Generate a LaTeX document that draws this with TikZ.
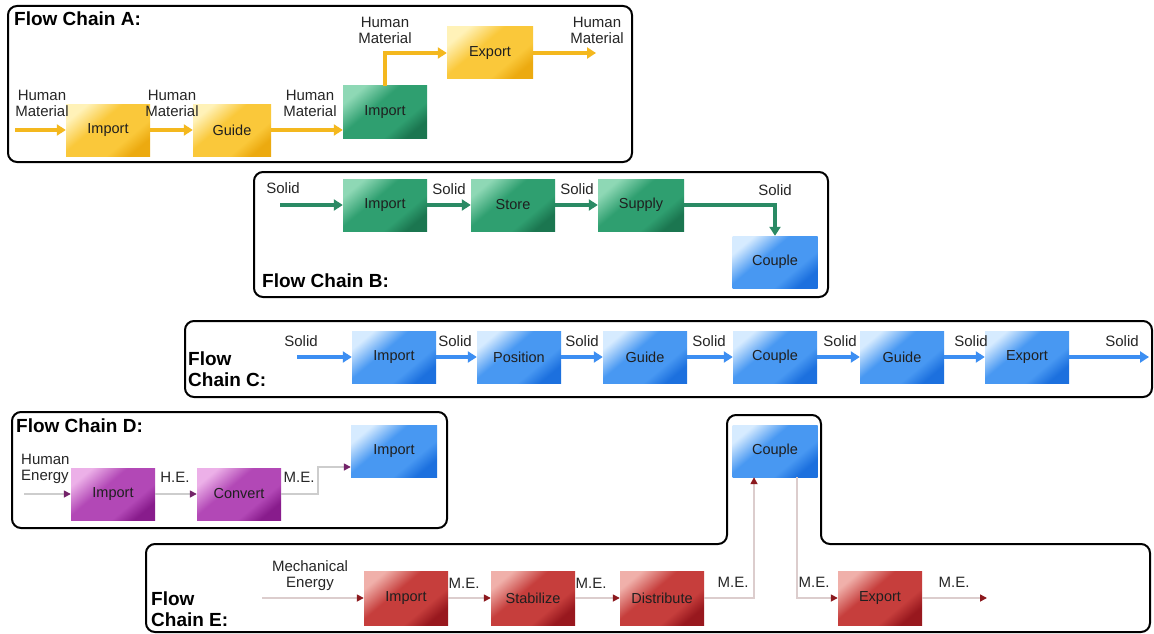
\documentclass[tikz,border=0pt]{standalone}
\usepackage{fontspec}
\setmainfont{Liberation Sans}
\usetikzlibrary{arrows.meta,calc}

% box fills: light, base, dark
\definecolor{yelL}{RGB}{255,242,184}
\definecolor{yelM}{RGB}{250,200,58}
\definecolor{yelD}{RGB}{236,170,16}
\definecolor{grnL}{RGB}{142,216,181}
\definecolor{grnM}{RGB}{47,159,112}
\definecolor{grnD}{RGB}{27,118,80}
\definecolor{bluL}{RGB}{214,235,255}
\definecolor{bluM}{RGB}{72,152,242}
\definecolor{bluD}{RGB}{28,112,222}
\definecolor{purL}{RGB}{236,176,232}
\definecolor{purM}{RGB}{178,72,182}
\definecolor{purD}{RGB}{136,28,140}
\definecolor{redL}{RGB}{240,176,170}
\definecolor{redM}{RGB}{198,62,60}
\definecolor{redD}{RGB}{152,24,30}
% connector colours
\definecolor{arYel}{RGB}{244,184,30}
\definecolor{arGrn}{RGB}{42,138,100}
\definecolor{arBlu}{RGB}{60,142,242}
\definecolor{lnD}{RGB}{205,205,205}
\definecolor{tipD}{RGB}{115,35,105}
\definecolor{lnE}{RGB}{220,205,205}
\definecolor{tipE}{RGB}{140,25,30}

% glossy fill: light corner, flat body, darker far edge
\newcommand\glossshade[2]{%
  \pgfdeclareverticalshading{#1}{100bp}{%
    color(0bp)=(#2D); color(25bp)=(#2D); color(36bp)=(#2M);
    color(58bp)=(#2M); color(75bp)=(#2L); color(100bp)=(#2L)}}
\glossshade{shYel}{yel}
\glossshade{shGrn}{grn}
\glossshade{shBlu}{blu}
\glossshade{shPur}{pur}
\glossshade{shRed}{red}

\tikzset{
  frame/.style={draw=black, line width=2pt, rounded corners=9pt},
  ttl/.style={font=\bfseries\fontsize{19}{21}\selectfont, inner sep=0pt, anchor=west, align=left},
  lbl/.style={font=\fontsize{15}{16}\selectfont, align=center, inner sep=0pt, text=black!85},
  fbox/.style={minimum width=84pt, minimum height=52pt, inner sep=0pt,
    font=\fontsize{14.5}{16}\selectfont, text=black!88},
  yel/.style={fbox, shading=shYel, shading angle=40},
  grn/.style={fbox, shading=shGrn, shading angle=40},
  blu/.style={fbox, shading=shBlu, shading angle=40},
  pur/.style={fbox, shading=shPur, shading angle=40},
  red/.style={fbox, shading=shRed, shading angle=40},
  arA/.style={draw=arYel, line width=3.6pt, -{Triangle[length=9pt,width=11pt]}},
  arB/.style={draw=arGrn, line width=3.6pt, -{Triangle[length=9pt,width=11pt]}},
  arC/.style={draw=arBlu, line width=3.6pt, -{Triangle[length=9pt,width=11pt]}},
  arD/.style={draw=lnD, line width=1.6pt, -{Triangle[length=7pt,width=7pt,color=tipD]}},
  arE/.style={draw=lnE, line width=1.6pt, -{Triangle[length=7pt,width=7pt,color=tipE]}},
}

\begin{document}
\begin{tikzpicture}[x=1pt,y=-1pt]
\useasboundingbox (0,0) rectangle (1154,634);
\fill[white] (0,0) rectangle (1154,634);

% ---------------- Flow chain A ----------------
\draw[frame] (8,6) rectangle (632,162);
\node[ttl] (tA) at (14,19) {Flow Chain A:};
\node[yel] (aImp) at (108,130) {Import};
\node[yel, minimum width=78pt] (aGuide) at (232,130) {Guide};
\node[grn] (aImpG) at (385,112) {Import};
\node[yel, minimum width=86pt] (aExp) at (490,53) {Export};
\coordinate (aIn) at (15,130);
\coordinate (aOut) at (596,53);
\draw[arA] (aIn) -- (aImp.west);
\draw[arA] (aImp.east) -- (aGuide.west);
\draw[arA] (aGuide.east) -- (aGuide.east -| aImpG.west);
\draw[arA] (aImpG.north) |- (aExp.west);
\draw[arA] (aExp.east) -- (aOut);
\node[lbl] (lA1) at (42,103) {Human\\Material};
\node[lbl] (lA2) at (172,103) {Human\\Material};
\node[lbl] (lA3) at (310,103) {Human\\Material};
\node[lbl] (lA4) at (385,30) {Human\\Material};
\node[lbl] (lA5) at (597,30) {Human\\Material};

% ---------------- Flow chain B ----------------
\draw[frame] (254,172) rectangle (828,297);
\node[ttl] (tB) at (262,281) {Flow Chain B:};
\node[grn] (bImp) at (385,205) {Import};
\node[grn] (bStore) at (513,205) {Store};
\node[grn, minimum width=86pt] (bSup) at (641,205) {Supply};
\node[blu, minimum width=85pt] (bCpl) at (775,262) {Couple};
\coordinate (bIn) at (280,205);
\draw[arB] (bIn) -- (bImp.west);
\draw[arB] (bImp.east) -- (bStore.west);
\draw[arB] (bStore.east) -- (bSup.west);
\draw[arB] (bSup.east) -| (bCpl.north);
\node[lbl] (lB1) at (283,188) {Solid};
\node[lbl] (lB2) at (449,189) {Solid};
\node[lbl] (lB3) at (577,189) {Solid};
\node[lbl] (lB4) at (775,190) {Solid};

% ---------------- Flow chain C ----------------
\draw[frame] (185,321) rectangle (1152,397);
\node[ttl] (tC) at (188,369) {Flow\\Chain C:};
\node[blu] (cImp) at (394,357) {Import};
\node[blu] (cPos) at (519,357) {Position};
\node[blu] (cGuide) at (645,357) {Guide};
\node[blu] (cCpl) at (775,357) {Couple};
\node[blu] (cGuideB) at (902,357) {Guide};
\node[blu] (cExp) at (1027,357) {Export};
\coordinate (cIn) at (297,357);
\coordinate (cOut) at (1149,357);
\draw[arC] (cIn) -- (cImp.west);
\draw[arC] (cImp.east) -- (cPos.west);
\draw[arC] (cPos.east) -- (cGuide.west);
\draw[arC] (cGuide.east) -- (cCpl.west);
\draw[arC] (cCpl.east) -- (cGuideB.west);
\draw[arC] (cGuideB.east) -- (cExp.west);
\draw[arC] (cExp.east) -- (cOut);
\node[lbl] (lC1) at (301,341) {Solid};
\node[lbl] (lC2) at (455,341) {Solid};
\node[lbl] (lC3) at (582,341) {Solid};
\node[lbl] (lC4) at (709,341) {Solid};
\node[lbl] (lC5) at (840,341) {Solid};
\node[lbl] (lC6) at (971,341) {Solid};
\node[lbl] (lC7) at (1122,341) {Solid};

% ---------------- Flow chain D ----------------
\draw[frame] (12,412) rectangle (447,528);
\node[ttl] (tD) at (16,426) {Flow Chain D:};
\node[pur] (dImp) at (113,494) {Import};
\node[pur] (dConv) at (239,494) {Convert};
\node[blu, minimum width=86pt] (dImpB) at (394,451) {Import};
\coordinate (dIn) at (24,494);
\coordinate (dK) at (318,467);
\draw[arD] (dIn) -- (dImp.west);
\draw[arD] (dImp.east) -- (dConv.west);
\draw[arD] (dConv.east) -| (dK) -- (dK -| dImpB.west);
\node[lbl, anchor=west, align=left] (lD1) at (21,469) {Human\\Energy};
\node[lbl] (lD2) at (175,477) {H.E.};
\node[lbl] (lD3) at (299,477) {M.E.};

% ---------------- Flow chain E ----------------
\draw[frame] (146,544) -- (727,544) -- (727,415) -- (821,415) -- (821,544)
  -- (1150,544) -- (1150,632) -- (146,632) -- cycle;
\node[ttl] (tE) at (151,609) {Flow\\Chain E:};
\node[blu, minimum width=85pt] (eCpl) at (775,451) {Couple};
\node[red, minimum height=54pt] (eImp) at (406,598) {Import};
\node[red, minimum height=54pt] (eStab) at (533,598) {Stabilize};
\node[red, minimum height=54pt] (eDist) at (662,598) {Distribute};
\node[red, minimum height=54pt] (eExp) at (880,598) {Export};
\coordinate (eIn) at (262,598);
\coordinate (eOut) at (987,598);
\coordinate (eU) at (754,0);
\coordinate (eD) at (797,0);
\draw[arE] (eIn) -- (eImp.west);
\draw[arE] (eImp.east) -- (eStab.west);
\draw[arE] (eStab.east) -- (eDist.west);
\draw[arE] (eDist.east) -| (eU |- eCpl.south);
\draw[arE] (eD |- eCpl.south) |- (eExp.west);
\draw[arE] (eExp.east) -- (eOut);
\node[lbl] (lE1) at (310,576) {Mechanical\\Energy};
\node[lbl] (lE2) at (464,583) {M.E.};
\node[lbl] (lE3) at (591,583) {M.E.};
\node[lbl] (lE4) at (733,582) {M.E.};
\node[lbl] (lE5) at (814,582) {M.E.};
\node[lbl] (lE6) at (954,582) {M.E.};
\end{tikzpicture}
\end{document}
